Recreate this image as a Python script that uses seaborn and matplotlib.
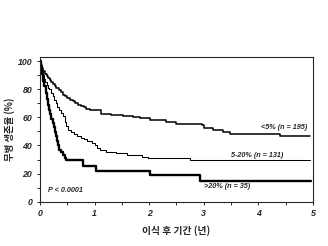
import matplotlib
matplotlib.use("Agg")
import matplotlib.pyplot as plt
import pandas as pd
import seaborn as sns
from matplotlib.ticker import MultipleLocator

# Kaplan-Meier step curves (years, % disease-free)
t_low = [0, 0.02, 0.04, 0.06, 0.09, 0.12, 0.15, 0.18, 0.21, 0.24, 0.27, 0.3, 0.34, 0.38,
         0.42, 0.46, 0.5, 0.55, 0.6, 0.65, 0.7, 0.75, 0.8, 0.85, 0.91,
         1.12, 1.3, 1.52, 1.7, 1.83, 2.01, 2.3, 2.5, 2.96, 3.0, 3.17, 3.35, 3.48, 4.4, 4.95]
v_low = [100, 97, 95, 93, 91, 89.5, 88, 86.5, 85, 84, 82.5, 81, 79.5, 78,
         76, 75, 74, 72.5, 71.4, 70, 69, 68, 67, 66, 65.2,
         62.5, 61.5, 60.7, 60, 59.5, 58, 57, 55.5, 54.8, 52.6, 50.7, 49.5, 48.4, 46.4, 46.4]

t_mid = [0, 0.02, 0.04, 0.06, 0.08, 0.1, 0.12, 0.15, 0.17, 0.2, 0.23, 0.26, 0.29, 0.32,
         0.35, 0.38, 0.42, 0.45, 0.48, 0.51, 0.56, 0.62, 0.67, 0.72, 0.76, 0.8, 0.86,
         0.91, 0.96, 1.0, 1.05, 1.09, 1.2, 1.4, 1.6, 1.86, 1.98, 2.74, 4.95]
v_mid = [100, 96, 93, 90, 87, 85, 83, 81, 79.8, 77, 75, 72.5, 70, 67.5,
         65, 63, 60.7, 57, 54, 51, 49.5, 48, 47, 46.4, 45.5, 44.5, 43.5,
         42.9, 41.5, 40, 38, 36.7, 35.5, 34.4, 33, 32, 31.2, 29.6, 29.6]

t_high = [0, 0.02, 0.04, 0.06, 0.08, 0.11, 0.13, 0.15, 0.17, 0.19, 0.21, 0.23, 0.25,
          0.27, 0.29, 0.31, 0.33, 0.35, 0.39, 0.42, 0.45, 0.48, 0.78, 1.03, 2.01, 2.93, 4.97]
v_high = [100, 96, 91, 86, 82, 77.4, 73, 69, 65.5, 62, 59, 56, 53,
          49.5, 46.4, 43, 40, 37, 35, 33.4, 31, 29.4, 25.7, 22.1, 19, 15, 15]

labels = ["<5% (n = 195)", "5-20% (n = 131)", ">20% (n = 35)"]

sns.set_style("ticks")
plt.rcParams["font.family"] = ["Liberation Sans", "Noto Sans CJK KR"]

fig = plt.figure(figsize=(3.28, 2.46), dpi=100)
ax = fig.add_axes([0.122, 0.18, 0.832, 0.588])

curves = [(t_low, v_low, 1.1), (t_mid, v_mid, 0.75), (t_high, v_high, 1.7)]
for t, v, lw in curves:
    df = pd.DataFrame({"t": t, "v": v})
    sns.lineplot(data=df, x="t", y="v", drawstyle="steps-post", color="black",
                 lw=lw, estimator=None, ax=ax)

ax.set_xlim(0, 5)
ax.set_ylim(0, 102.8)
ax.xaxis.set_major_locator(MultipleLocator(1))
ax.xaxis.set_minor_locator(MultipleLocator(0.5))
ax.yaxis.set_major_locator(MultipleLocator(20))
ax.yaxis.set_minor_locator(MultipleLocator(10))
ax.tick_params(which="both", direction="out", length=2.5, width=0.7, pad=3)
for lab in ax.get_xticklabels() + ax.get_yticklabels():
    lab.set_fontsize(6.3)
    lab.set_fontstyle("italic")
    lab.set_fontweight("bold")
for s in ax.spines.values():
    s.set_linewidth(0.8)

ax.set_xlabel("이식 후 기간 (년)", fontsize=7, fontweight="heavy",
              family=["Noto Sans CJK KR"], labelpad=5)
ax.set_ylabel("무병 생존율 (%)", fontsize=6.8, fontweight="heavy",
              family=["Noto Sans CJK KR"], labelpad=2)

txt = dict(fontsize=5.2, fontstyle="italic", fontweight="bold")
ax.text(4.05, 51.5, labels[0], **txt)
ax.text(3.5, 31.8, labels[1], **txt)
ax.text(3.0, 9.5, labels[2], **txt)
ax.text(0.15, 7, "P < 0.0001", **txt)

fig.savefig("out.png", dpi=100)
